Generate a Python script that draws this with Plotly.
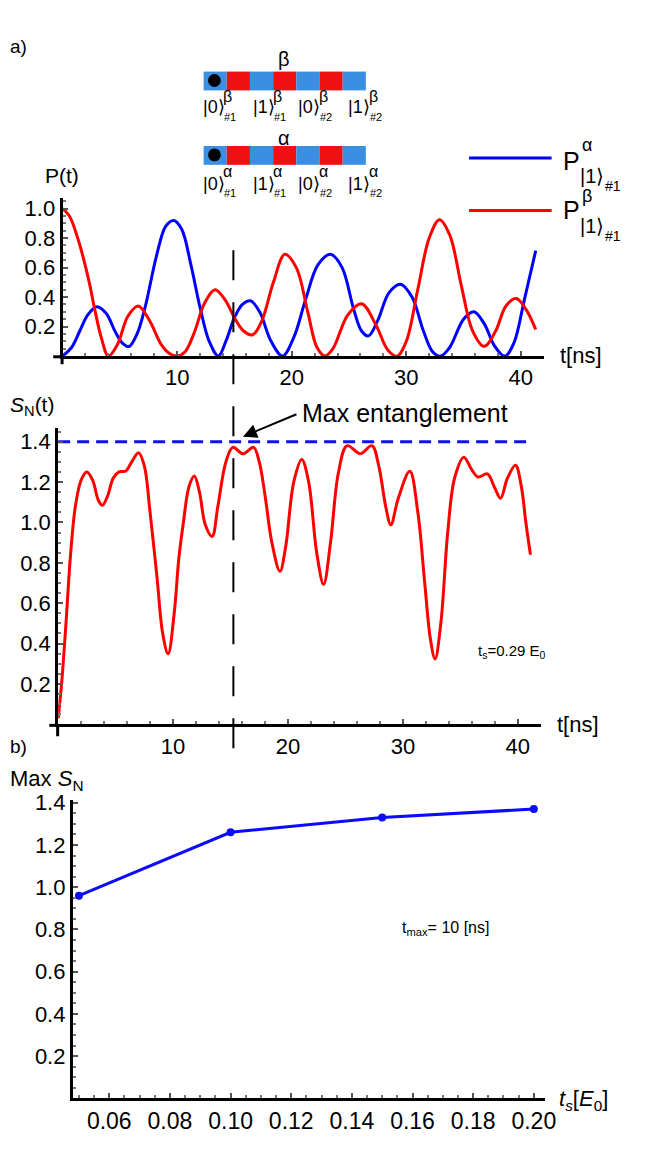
import plotly.graph_objects as go

W, H = 664, 1154          # browser window
OFF = 8                   # default body margin of the page
FW, FH = W - 2 * OFF, H - 2 * OFF
FONT = "Liberation Sans, Arial, sans-serif"


def px(x):
    return (x - OFF) / FW


def py(y):
    return 1 - (y - OFF) / FH


# ---------------- data ----------------
# top panel: occupation probabilities
t_alpha = [0, 0.8, 1.5, 2.2, 3.0, 3.8, 4.6, 5.2, 5.8, 6.5, 7.2, 8.2, 9.0, 9.7, 10.4,
           11.2, 12.0, 12.8, 13.6, 14.3, 15.0, 15.7, 16.4, 17.2, 18.2, 19.2, 20.2,
           21.2, 22.3, 23.4, 24.4, 25.4, 26.1, 26.7, 27.5, 28.5, 29.5, 30.5, 31.5,
           32.3, 33.0, 33.8, 35.0, 35.9, 36.8, 37.7, 38.6, 39.4, 40.3, 41.3]
p_alpha = [0, 0.06, 0.17, 0.28, 0.335, 0.29, 0.165, 0.09, 0.065, 0.15, 0.33, 0.68,
           0.88, 0.92, 0.86, 0.62, 0.33, 0.10, 0.0, 0.11, 0.26, 0.35, 0.375, 0.30,
           0.10, 0.0, 0.13, 0.38, 0.62, 0.69, 0.60, 0.32, 0.17, 0.137, 0.24, 0.43,
           0.487, 0.40, 0.17, 0.03, 0.0, 0.06, 0.25, 0.30, 0.22, 0.07, 0.0, 0.09,
           0.38, 0.715]

t_beta = [0, 0.6, 1.4, 2.3, 2.8, 3.4, 4.0, 4.8, 5.7, 6.6, 7.6, 8.6, 9.3, 10.0, 10.7,
          11.5, 12.4, 13.3, 14.2, 15.0, 15.8, 16.6, 17.4, 18.4, 19.4, 20.4, 21.4,
          22.2, 22.9, 23.6, 24.9, 26.1, 27.3, 28.4, 29.2, 30.0, 31.0, 32.0, 32.9,
          33.8, 34.8, 35.8, 36.8, 37.8, 38.7, 39.6, 40.5, 41.3]
p_beta = [1.0, 0.95, 0.78, 0.51, 0.32, 0.12, 0.0, 0.08, 0.27, 0.34, 0.24, 0.08,
          0.02, 0.0, 0.03, 0.16, 0.36, 0.45, 0.38, 0.26, 0.17, 0.145, 0.24, 0.50,
          0.69, 0.60, 0.30, 0.06, 0.0, 0.05, 0.28, 0.355, 0.22, 0.04, 0.0, 0.10,
          0.45, 0.80, 0.925, 0.82, 0.48, 0.17, 0.066, 0.17, 0.34, 0.39, 0.31, 0.18]

# middle panel: entanglement entropy
t_sn = [0, 0.3, 0.66, 1.08, 1.5, 2.0, 2.5, 3.0, 3.5, 3.85, 4.3, 4.8, 5.3, 5.9, 6.4,
        7.0, 7.5, 8.0, 8.6, 9.1, 9.57, 10.1, 10.5, 10.9, 11.4, 11.85, 12.3, 12.8,
        13.4, 13.9, 14.6, 15.2, 16.1, 17.0, 17.5, 18.0, 18.6, 19.3, 19.8, 20.5,
        21.2, 21.8, 22.5, 23.1, 23.7, 24.4, 25.15, 26.3, 27.3, 27.9, 28.5, 28.95,
        29.6, 30.6, 31.3, 31.9, 32.4, 32.8, 33.3, 33.9, 34.5, 35.3, 36.0, 36.55,
        37.35, 38.0, 38.5, 39.1, 39.8, 40.3, 40.7, 41.1]
sn = [0.03, 0.2, 0.48, 0.84, 1.08, 1.21, 1.25, 1.21, 1.11, 1.085, 1.13, 1.22, 1.25,
      1.255, 1.30, 1.345, 1.28, 1.05, 0.73, 0.45, 0.35, 0.55, 0.82, 1.0, 1.18, 1.23,
      1.15, 0.99, 0.93, 1.08, 1.30, 1.372, 1.34, 1.372, 1.30, 1.135, 0.90, 0.758,
      0.88, 1.20, 1.312, 1.20, 0.85, 0.693, 0.90, 1.25, 1.38, 1.34, 1.38, 1.28, 1.08,
      0.988, 1.12, 1.253, 1.05, 0.70, 0.42, 0.324, 0.50, 0.95, 1.22, 1.323, 1.26,
      1.225, 1.24, 1.17, 1.12, 1.22, 1.283, 1.18, 1.00, 0.84]
sn_max_t = [0, 41.2]
sn_max_level = [1.4, 1.4]
t_max_ent = 15.25

# bottom panel
ts_values = [0.05, 0.10, 0.15, 0.20]
max_sn = [0.96, 1.26, 1.33, 1.37]

# tick labels
tick_t = [10, 20, 30, 40]
tick_p = [0.2, 0.4, 0.6, 0.8, 1.0]
tick_sn = [0.2, 0.4, 0.6, 0.8, 1.0, 1.2, 1.4]
tick_ts = [0.06, 0.08, 0.10, 0.12, 0.14, 0.16, 0.18, 0.20]

BLUE = "#0000ff"
RED = "#ff0000"
BAR_BLUE = "#3a8fe2"
BAR_RED = "#ee1111"

fig = go.Figure()
fig.add_trace(go.Scatter(x=t_alpha, y=p_alpha, mode="lines", line=dict(color=BLUE, width=3, shape="spline"),
                         xaxis="x", yaxis="y", name="P alpha"))
fig.add_trace(go.Scatter(x=t_beta, y=p_beta, mode="lines", line=dict(color=RED, width=3, shape="spline"),
                         xaxis="x", yaxis="y", name="P beta"))
fig.add_trace(go.Scatter(x=sn_max_t, y=sn_max_level, mode="lines",
                         line=dict(color="#1010ee", width=3, dash="12px,7px"),
                         xaxis="x2", yaxis="y2", name="max"))
fig.add_trace(go.Scatter(x=t_sn, y=sn, mode="lines", line=dict(color=RED, width=3, shape="spline"),
                         xaxis="x2", yaxis="y2", name="SN"))
fig.add_trace(go.Scatter(x=ts_values, y=max_sn, mode="lines+markers",
                         line=dict(color="#0a0aff", width=3), marker=dict(color="#0a0aff", size=8),
                         xaxis="x3", yaxis="y3", name="Max SN", cliponaxis=False))

common = dict(showline=True, linecolor="black", linewidth=3, showgrid=False, zeroline=False,
              ticks="inside", ticklen=5, tickwidth=1.5, tickcolor="#555",
              tickfont=dict(size=22, color="black", family=FONT))
minor_t = dict(ticks="inside", ticklen=3, tickcolor="#777", dtick=2, tick0=0)
minor_y = dict(ticks="inside", ticklen=3, tickcolor="#777", dtick=0.05, tick0=0)

fig.update_layout(
    width=FW, height=FH, autosize=False,
    margin=dict(l=0, r=0, t=0, b=0),
    paper_bgcolor="white", plot_bgcolor="white",
    showlegend=False,
    font=dict(family=FONT, color="black"),
    xaxis=dict(common, domain=[px(63.5), px(553)], range=[0, 42.0], anchor="y",
               tickvals=tick_t, minor=minor_t),
    yaxis=dict(common, domain=[py(349.8), py(190)], range=[0, 1.075], anchor="x",
               tickvals=tick_p, tickformat=".1f", minor=minor_y),
    xaxis2=dict(common, domain=[px(59), px(550)], range=[0, 42.0], anchor="y2",
                tickvals=tick_t, minor=minor_t),
    yaxis2=dict(common, domain=[py(721), py(422)], range=[0, 1.469], anchor="x2",
                tickvals=tick_sn, tickformat=".1f", minor=minor_y),
    xaxis3=dict(common, domain=[px(74), px(554)], range=[0.048, 0.2036], anchor="y3",
                tickvals=tick_ts, tickformat=".2f", tickfont=dict(size=23, color="black", family=FONT),
                minor=dict(ticks="inside", ticklen=3, tickcolor="#777", dtick=0.005, tick0=0.0)),
    yaxis3=dict(common, domain=[py(1098), py(797)], range=[0, 1.414], anchor="x3",
                tickvals=tick_sn, tickformat=".1f", minor=minor_y),
)

shapes = []
# axis overshoot beyond origin (Mathematica style)
for (x0, x1, y0, y1) in [(54, 63.5, 350.5, 350.5), (63, 63, 349.8, 358),
                         (50, 59, 722, 722), (58.5, 58.5, 721, 733)]:
    shapes.append(dict(type="line", xref="paper", yref="paper", x0=px(x0), x1=px(x1), y0=py(y0), y1=py(y1),
                       line=dict(color="black", width=3)))

# vertical dashed marker of max entanglement time
shapes.append(dict(type="line", xref="x2", yref="paper", x0=t_max_ent, x1=t_max_ent,
                   y0=py(745), y1=py(240), line=dict(color="black", width=2, dash="30px,22px")))

# legend sample lines
shapes.append(dict(type="line", xref="paper", yref="paper", x0=px(477), x1=px(561), y0=py(150), y1=py(150),
                   line=dict(color=BLUE, width=3)))
shapes.append(dict(type="line", xref="paper", yref="paper", x0=px(477), x1=px(561), y0=py(203), y1=py(203),
                   line=dict(color=RED, width=3)))

# schematic chains (beta on top, alpha below)
seg_w = (372 - 207) / 7
for (top, bot, cy) in [(63, 82, 72), (138, 157, 147)]:
    for i in range(7):
        shapes.append(dict(type="rect", xref="paper", yref="paper",
                           x0=px(207 + i * seg_w), x1=px(207 + (i + 1) * seg_w), y0=py(bot), y1=py(top),
                           fillcolor=BAR_BLUE if i % 2 == 0 else BAR_RED, line=dict(width=0)))
    shapes.append(dict(type="circle", xref="paper", yref="paper", x0=px(211.5), x1=px(224.5),
                       y0=py(cy + 6.5), y1=py(cy - 6.5), fillcolor="black", line=dict(width=0)))

fig.update_layout(shapes=shapes)


def ann(text, x, y, size, xanchor="center", yanchor="middle", **kw):
    return dict(text=text, x=px(x), y=py(y), xref="paper", yref="paper", showarrow=False,
                font=dict(size=size, color="black", family=FONT), xanchor=xanchor, yanchor=yanchor, **kw)


anns = [
    ann("a)", 8, 38, 19, xanchor="left"),
    ann("b)", 8, 743, 19, xanchor="left"),
    ann("P(t)", 44, 168, 21, xanchor="left"),
    ann("t[ns]", 567, 349, 22, xanchor="left"),
    ann("<i>S</i><sub>N</sub>(t)", 8, 400, 21, xanchor="left"),
    ann("t[ns]", 564, 721, 22, xanchor="left"),
    ann("Max entanglement", 305, 407, 25, xanchor="left"),
    ann("t<sub>s</sub>=0.29 E<sub>0</sub>", 484, 648, 15, xanchor="left"),
    ann("Max <i>S</i><sub>N</sub>", 8, 777, 22, xanchor="left"),
    ann("t<sub>max</sub>= 10 [ns]", 407, 927, 16, xanchor="left"),
    ann("<i>t<sub>s</sub></i>[<i>E</i><sub>0</sub>]", 566, 1100, 22, xanchor="left"),
    ann("β", 289, 50, 20),
    ann("α", 289, 130, 20),
]

# arrow to the maximum
anns.append(dict(x=px(247), y=py(431), xref="paper", yref="paper", ax=55, ay=-23, text="",
                 showarrow=True, arrowhead=2, arrowsize=1.4, arrowwidth=2, arrowcolor="black"))

# ket labels under the chains
kets = ["|0⟩", "|1⟩", "|0⟩", "|1⟩"]
subs = ["#1", "#1", "#2", "#2"]
ket_x = [204, 255, 301, 352]
for greek, yk, ysup, ysub in [("β", 99, 88, 109), ("α", 176, 164, 185)]:
    for k, s, x in zip(kets, subs, ket_x):
        anns.append(ann(k, x, yk, 18, xanchor="left"))
        anns.append(ann(greek, x + 21, ysup, 16, xanchor="left"))
        anns.append(ann(s, x + 22, ysub, 11, xanchor="left"))

# legend labels
for greek, yP, ysup, yket, ysub in [("α", 153, 137, 168, 178), ("β", 203, 188, 219, 229)]:
    anns.append(ann("P", 571, yP, 25, xanchor="left"))
    anns.append(ann(greek, 590, ysup, 18, xanchor="left"))
    anns.append(ann("|1⟩", 588, yket, 20, xanchor="left"))
    anns.append(ann("#1", 613, ysub, 14, xanchor="left"))

fig.update_layout(annotations=anns)

fig.write_html("out.html")
